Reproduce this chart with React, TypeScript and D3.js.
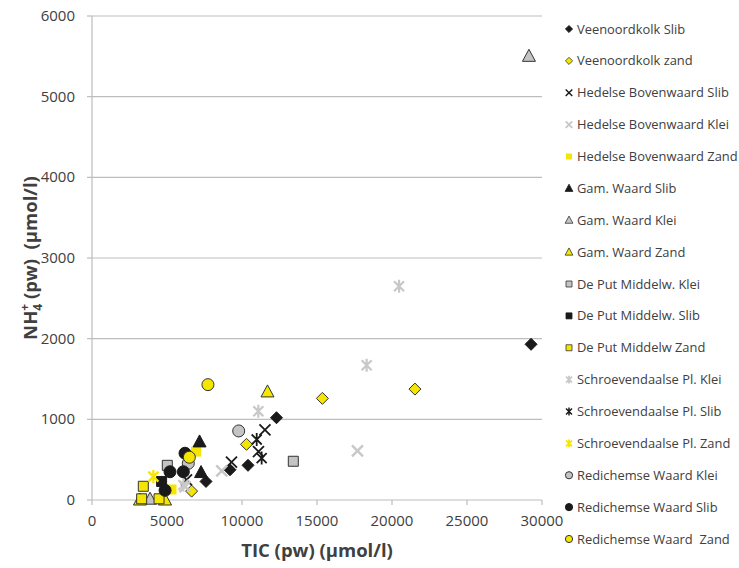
import React from "react";
import * as d3 from "d3";

const xTicks = [0, 5000, 10000, 15000, 20000, 25000, 30000];
const yTicks = [0, 1000, 2000, 3000, 4000, 5000, 6000];

const veenoordkolkSlib = [[29270, 1930], [12300, 1020], [10400, 430], [9200, 375], [7600, 230]];
const veenoordkolkZand = [[21530, 1375], [15360, 1260], [10300, 690], [6640, 110]];
const hedelseSlib = [[11530, 870], [9300, 470], [11100, 600], [6300, 250]];
const hedelseKlei = [[17700, 610], [8650, 360], [6200, 165]];
const hedelseZand = [[6930, 600], [5300, 130]];
const gamSlib = [[7170, 720], [7270, 340]];
const gamKlei = [[29130, 5500], [3870, 10]];
const gamZand = [[11700, 1340], [3200, 0], [4870, 0]];
const deputKlei = [[13420, 480], [5020, 430]];
const deputSlib = [[4640, 230]];
const deputZand = [[3420, 170], [3310, 15], [4470, 15]];
const schroevKlei = [[20470, 2650], [18310, 1670], [11090, 1100], [6090, 186]];
const schroevSlib = [[10980, 750], [11310, 520]];
const schroevZand = [[4090, 290]];
const redichemseKlei = [[9780, 856], [6420, 455]];
const redichemseSlib = [[6200, 580], [5200, 350], [6090, 350], [4870, 120]];
const redichemseZand = [[7730, 1430], [6490, 530]];

const seriesNames = [
  "Veenoordkolk Slib",
  "Veenoordkolk zand",
  "Hedelse Bovenwaard Slib",
  "Hedelse Bovenwaard Klei",
  "Hedelse Bovenwaard Zand",
  "Gam. Waard Slib",
  "Gam. Waard Klei",
  "Gam. Waard Zand",
  "De Put Middelw. Klei",
  "De Put Middelw. Slib",
  "De Put Middelw Zand",
  "Schroevendaalse Pl. Klei",
  "Schroevendaalse Pl. Slib",
  "Schroevendaalse Pl. Zand",
  "Redichemse Waard Klei",
  "Redichemse Waard Slib",
  "Redichemse Waard  Zand",
];

const YEL = "#f4e600";
const BLK = "#1a1a1a";
const GRY = "#c4c4c4";
const LGRY = "#c8c8c8";
const EDGE = "#333333";

type Style = { shape: string; fill: string; stroke: string; sw: number };
const styles: Style[] = [
  { shape: "diamond", fill: BLK, stroke: BLK, sw: 1 },
  { shape: "diamond", fill: YEL, stroke: EDGE, sw: 1 },
  { shape: "x", fill: "none", stroke: BLK, sw: 1.8 },
  { shape: "x", fill: "none", stroke: LGRY, sw: 2.4 },
  { shape: "square", fill: YEL, stroke: YEL, sw: 0 },
  { shape: "triangle", fill: BLK, stroke: BLK, sw: 1 },
  { shape: "triangle", fill: GRY, stroke: EDGE, sw: 1 },
  { shape: "triangle", fill: YEL, stroke: EDGE, sw: 1 },
  { shape: "square", fill: GRY, stroke: EDGE, sw: 1 },
  { shape: "square", fill: BLK, stroke: BLK, sw: 1 },
  { shape: "square", fill: YEL, stroke: EDGE, sw: 1 },
  { shape: "star", fill: "none", stroke: LGRY, sw: 2.2 },
  { shape: "star", fill: "none", stroke: BLK, sw: 1.8 },
  { shape: "star", fill: "none", stroke: YEL, sw: 2.2 },
  { shape: "circle", fill: GRY, stroke: EDGE, sw: 1 },
  { shape: "circle", fill: BLK, stroke: BLK, sw: 1 },
  { shape: "circle", fill: YEL, stroke: EDGE, sw: 1 },
];

const seriesData = [
  veenoordkolkSlib, veenoordkolkZand, hedelseSlib, hedelseKlei, hedelseZand,
  gamSlib, gamKlei, gamZand, deputKlei, deputSlib, deputZand,
  schroevKlei, schroevSlib, schroevZand, redichemseKlei, redichemseSlib, redichemseZand,
];

function shapePath(shape: string, k: number): string {
  switch (shape) {
    case "diamond":
      return `M0,${-6 * k}L${6 * k},0L0,${6 * k}L${-6 * k},0Z`;
    case "square":
      return `M${-5 * k},${-5 * k}H${5 * k}V${5 * k}H${-5 * k}Z`;
    case "triangle":
      return `M0,${-7 * k}L${6.5 * k},${5 * k}L${-6.5 * k},${5 * k}Z`;
    case "x":
      return `M${-5.5 * k},${-5.5 * k}L${5.5 * k},${5.5 * k}M${5.5 * k},${-5.5 * k}L${-5.5 * k},${5.5 * k}`;
    case "star":
      return `M${-5 * k},${-5 * k}L${5 * k},${5 * k}M${5 * k},${-5 * k}L${-5 * k},${5 * k}M0,${-6.5 * k}L0,${6.5 * k}`;
    default:
      return "";
  }
}

function Marker({ st, x, y, k }: { st: Style; x: number; y: number; k: number }) {
  if (st.shape === "circle") {
    return <circle cx={x} cy={y} r={6 * k} fill={st.fill} stroke={st.stroke} strokeWidth={st.sw} />;
  }
  return (
    <path
      transform={`translate(${x},${y})`}
      d={shapePath(st.shape, k)}
      fill={st.fill}
      stroke={st.stroke}
      strokeWidth={st.sw * (k < 1 ? 0.8 : 1)}
    />
  );
}

export default function App() {
  const W = 739, H = 568;
  const xs = d3.scaleLinear().domain([0, 30000]).range([92, 542]);
  const ys = d3.scaleLinear().domain([0, 6000]).range([500, 16]);
  const font = "Open Sans, sans-serif";
  const legendY = d3.scaleLinear().domain([0, 16]).range([29, 539]);

  return (
    <svg width={W} height={H} style={{ position: "absolute", left: 0, top: 0, background: "#fff" }} fontFamily={font}>
      {yTicks.filter((t) => t > 0).map((t) => (
        <line key={"g" + t} x1={xs(0)} x2={xs(30000)} y1={ys(t)} y2={ys(t)} stroke="#bdbdbd" strokeWidth={1.2} />
      ))}
      <line x1={xs(0)} x2={xs(0)} y1={ys(0)} y2={ys(6000)} stroke="#bdbdbd" strokeWidth={1.2} />
      <line x1={xs(0)} x2={xs(30000)} y1={ys(0)} y2={ys(0)} stroke="#bdbdbd" strokeWidth={1.2} />
      {yTicks.map((t) => (
        <line key={"yt" + t} x1={xs(0) - 5} x2={xs(0)} y1={ys(t)} y2={ys(t)} stroke="#bdbdbd" strokeWidth={1.2} />
      ))}
      {xTicks.map((t) => (
        <line key={"xt" + t} x1={xs(t)} x2={xs(t)} y1={ys(0)} y2={ys(0) + 5} stroke="#bdbdbd" strokeWidth={1.2} />
      ))}
      {yTicks.map((t) => (
        <text key={"yl" + t} x={xs(0) - 17} y={ys(t) + 5} textAnchor="end" fontSize={15} fill="#404040">
          {t}
        </text>
      ))}
      {xTicks.map((t) => (
        <text key={"xl" + t} x={xs(t)} y={ys(0) + 26} textAnchor="middle" fontSize={15} fill="#404040">
          {t}
        </text>
      ))}
      <text x={xs(15000)} y={557} textAnchor="middle" fontSize={18.5} fontWeight="bold" fill="#404040">
        TIC (pw) (µmol/l)
      </text>
      <text transform={`translate(37,${ys(3000)}) rotate(-90)`} textAnchor="middle" fontSize={18.5} fontWeight="bold" fill="#404040" style={{ whiteSpace: "pre" }}>
        NH<tspan fontSize={12} dy={5}>4</tspan>
        <tspan fontSize={12} dy={-13} dx={-7}>+</tspan>
        <tspan dy={8}>{" (pw)  (µmol/l)"}</tspan>
      </text>
      {seriesData.map((arr, i) => (
        <g key={"s" + i}>
          {arr.map((p, j) => (
            <Marker key={j} st={styles[i]} x={xs(p[0])} y={ys(p[1])} k={1} />
          ))}
        </g>
      ))}
      {seriesNames.map((n, i) => (
        <g key={"l" + i}>
          <Marker st={styles[i]} x={569} y={legendY(i)} k={0.6} />
          <text x={577} y={legendY(i) + 4.5} fontSize={12.9} fill="#404040" style={{ whiteSpace: "pre" }}>
            {n}
          </text>
        </g>
      ))}
    </svg>
  );
}
